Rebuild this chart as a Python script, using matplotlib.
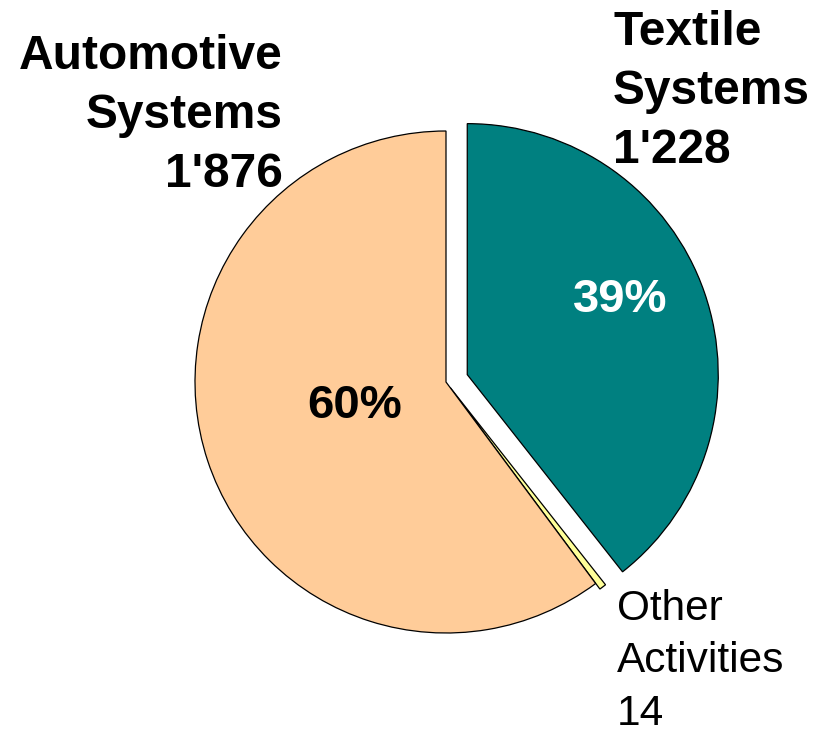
import matplotlib
matplotlib.use("Agg")
import matplotlib.pyplot as plt

# data (clockwise from 12 o'clock)
segments = ["Textile Systems", "Other Activities", "Automotive Systems"]
sales = [1228, 14, 1876]
pct_labels = ["39%", "", "60%"]
colors = ["#008080", "#FFFF99", "#FFCC99"]
explode = [22.5, 7, 0]  # in data units (pixels here)

plt.rcParams["font.family"] = ["Liberation Sans", "DejaVu Sans"]

fig = plt.figure(figsize=(8.25, 7.32), dpi=100)
ax = fig.add_axes([0, 0, 1, 1])

wedges, _ = ax.pie(sales, colors=colors, explode=explode, startangle=90,
                   counterclock=False, center=(446, 350), radius=251,
                   wedgeprops=dict(edgecolor="black", linewidth=0.9),
                   frame=True)
ax.set_xlim(0, 825)
ax.set_ylim(0, 732)
ax.set_aspect("equal")
ax.axis("off")

# percentage labels
ax.text(620, 732 - 300, pct_labels[0], color="white", fontsize=34,
        fontweight="bold", ha="center", va="center")
ax.text(355, 732 - 406, pct_labels[2], color="black", fontsize=34,
        fontweight="bold", ha="center", va="center")

# segment labels
ax.text(283, 732 - 34, "Automotive\nSystems\n1'876", fontsize=34.5,
        fontweight="bold", ha="right", va="top", linespacing=1.4,
        multialignment="right")
ax.text(613, 732 - 10, "Textile\nSystems\n1'228", fontsize=34.5,
        fontweight="bold", ha="left", va="top", linespacing=1.4)
ax.text(617, 732 - 589, "Other\nActivities\n14", fontsize=30.5,
        ha="left", va="top", linespacing=1.40)

fig.savefig("out.png", dpi=100)
